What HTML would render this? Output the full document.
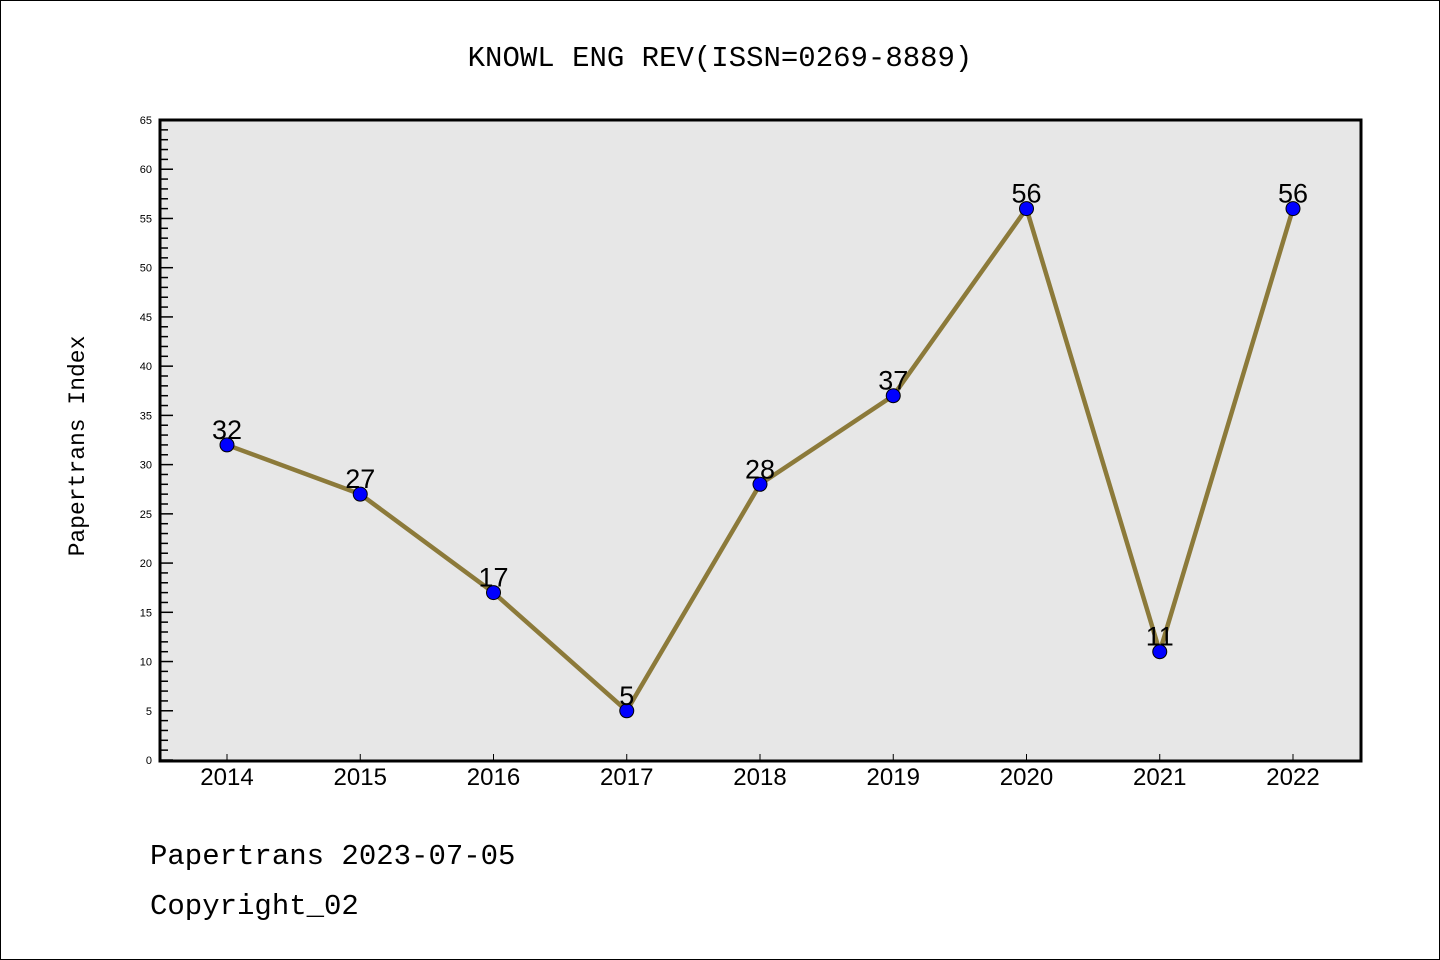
<!DOCTYPE html>
<html><head><meta charset="utf-8"><style>
body{margin:0;background:#fff}
svg{display:block;font-family:"Liberation Mono","DejaVu Sans Mono",monospace}
</style></head><body>
<svg id="c" width="1440" height="960">
<rect x="0.5" y="0.5" width="1439" height="959" fill="#fff" stroke="#000"/>
<text x="720" y="66" text-anchor="middle" font-size="29">KNOWL ENG REV(ISSN=0269-8889)</text>
<rect x="160" y="120" width="1201" height="641" fill="#e7e7e7"/>
<text transform="translate(84,446) rotate(-90)" text-anchor="middle" font-size="23">Papertrans Index</text>
<text x="150" y="864" font-size="29">Papertrans 2023-07-05</text>
<text x="150" y="914" font-size="29">Copyright_02</text>
<g id="ticks"></g><g id="marks"></g>
<rect x="160" y="120" width="1201" height="641" fill="none" stroke="#000" stroke-width="3"/>
</svg>
<script>
const categories=["2014","2015","2016","2017","2018","2019","2020","2021","2022"];
const values=[32,27,17,5,28,37,56,11,56];
const yTicks=[0,5,10,15,20,25,30,35,40,45,50,55,60,65];
const NS="http://www.w3.org/2000/svg";
const x0=227,dx=133.25,yb=760,yt=120,ymax=65;
function xs(i){return x0+i*dx;}
function ys(v){return yb-(v/ymax)*(yb-yt);}
function mk(t,a,p){const e=document.createElementNS(NS,t);for(const k in a)e.setAttribute(k,a[k]);p.appendChild(e);return e;}
const tg=document.getElementById('ticks'),mg=document.getElementById('marks');
for(let v=0;v<=ymax;v++){
  const major=v%5===0;
  const l=mk('line',{x1:160,x2:160+(major?13:8),y1:ys(v),y2:ys(v),stroke:'#000','stroke-width':1.5},tg);
  
  
}
yTicks.forEach(v=>{
  const t=mk('text',{x:152,y:ys(v)+4,'text-anchor':'end','font-size':11,'font-family':'Liberation Sans,sans-serif'},tg);
  t.textContent=v;
  
  
});
categories.forEach((c,i)=>{
  const l=mk('line',{x1:xs(i),x2:xs(i),y1:760,y2:754,stroke:'#000','stroke-width':1},tg);
  
  
  const t=mk('text',{x:xs(i),y:785,'text-anchor':'middle','font-size':24,'font-family':'Liberation Sans,sans-serif'},tg);
  t.textContent=c;
  
  
});
const pts=values.map((v,i)=>xs(i)+','+ys(v)).join(' ');
const pl=mk('polyline',{points:pts,fill:'none',stroke:'#8c7a3a','stroke-width':4.5,'stroke-linejoin':'round'},mg);


values.forEach((v,i)=>{
  const c=mk('circle',{cx:xs(i),cy:ys(v),r:7,fill:'#0000ff',stroke:'#000','stroke-width':1},mg);
  
  
  const t=mk('text',{x:xs(i),y:ys(v)-6,'text-anchor':'middle','font-size':27,'font-family':'Liberation Sans,sans-serif'},mg);
  t.textContent=v;
  
  
});
</script>
</body></html>
